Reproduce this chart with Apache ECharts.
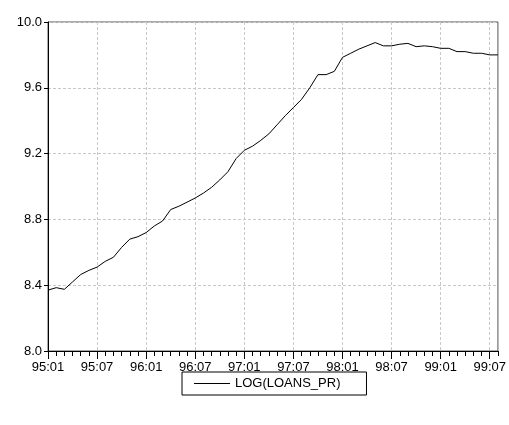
<!DOCTYPE html>
<html>
<head>
<meta charset="utf-8">
<script src="https://cdn.jsdelivr.net/npm/echarts@6/dist/echarts.min.js"></script>
<style>html,body{margin:0;padding:0;background:#fff}#c{width:509px;height:425px}</style>
</head>
<body>
<div id="c"></div>
<script>
var years = ['95', '96', '97', '98', '99'];
var months = [];
years.forEach(function (y) {
    for (var m = 1; m <= 12; m++) months.push(y + ':' + (m < 10 ? '0' + m : m));
});
months = months.slice(0, 56); // 95:01 .. 99:08

var loansLog = [
    8.37, 8.385, 8.375, 8.42, 8.465, 8.49, 8.51, 8.545, 8.57, 8.63, 8.68, 8.695,
    8.72, 8.76, 8.79, 8.86, 8.88, 8.905, 8.93, 8.96, 8.995, 9.04, 9.09, 9.17,
    9.22, 9.245, 9.28, 9.32, 9.375, 9.43, 9.48, 9.53, 9.60, 9.68, 9.68, 9.70,
    9.785, 9.81, 9.835, 9.855, 9.875, 9.855, 9.855, 9.865, 9.87, 9.85, 9.855, 9.85,
    9.84, 9.84, 9.82, 9.82, 9.81, 9.81, 9.80, 9.80
];

var chart = echarts.init(document.getElementById('c'));
var font = { fontFamily: 'Arial, Liberation Sans', fontSize: 13, color: '#000' };
chart.setOption({
    animation: false,
    grid: { left: 48, right: 8, top: 22, bottom: 74, show: true, borderColor: '#555', borderWidth: 1 },
    legend: {
        bottom: 30, left: 182,
        data: ['LOG(LOANS_PR)'],
        borderColor: '#000', borderWidth: 1, borderRadius: 0,
        padding: [5, 26, 5, 12],
        itemWidth: 36, itemHeight: 10, itemGap: 4, icon: 'path://M0,5L36,5L36,6L0,6Z',
        textStyle: font
    },
    xAxis: [{
        type: 'category', data: months, boundaryGap: false,
        axisLine: { lineStyle: { color: '#000' } },
        axisTick: { interval: 0, length: 5, lineStyle: { color: '#000' } },
        axisLabel: { show: false },
        splitLine: { show: false }
    }, {
        type: 'category', data: months, boundaryGap: false, position: 'bottom',
        axisLine: { show: false },
        axisTick: { interval: 5, length: 8, lineStyle: { color: '#000' } },
        axisLabel: Object.assign({ interval: 5, margin: 10 }, font),
        splitLine: { show: true, interval: 5, lineStyle: { color: '#c8c8c8', type: [3, 2] } }
    }],
    yAxis: {
        type: 'value', min: 8.0, max: 10.0, interval: 0.4,
        axisLine: { show: true, lineStyle: { color: '#000' } },
        axisTick: { show: true, length: 4, inside: false, lineStyle: { color: '#000' } },
        axisLabel: Object.assign({ margin: 6, formatter: function (v) { return v.toFixed(1); } }, font),
        splitLine: { lineStyle: { color: '#c8c8c8', type: [3, 2] } }
    },
    series: [{
        name: 'LOG(LOANS_PR)', type: 'line', data: loansLog, xAxisIndex: 0,
        symbol: 'none', lineStyle: { color: '#000', width: 1 }, itemStyle: { color: '#000' }
    }]
});
</script>
</body>
</html>
